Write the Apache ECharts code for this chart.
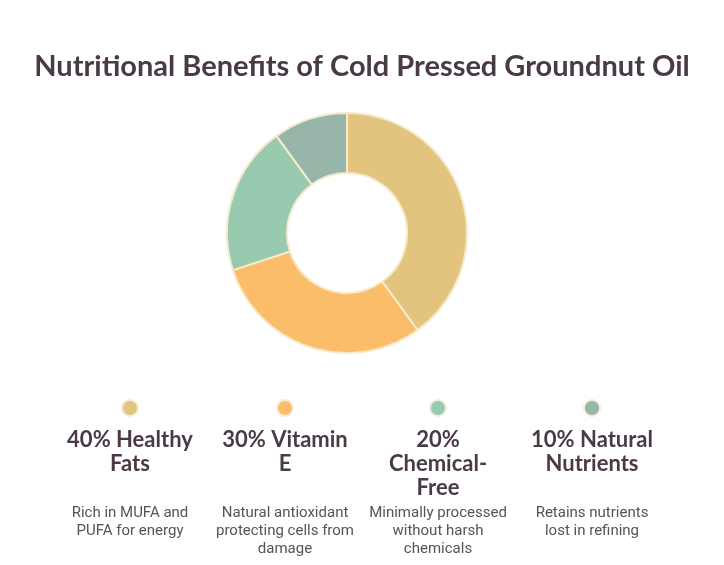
<!DOCTYPE html>
<html lang="en">
<head>
  <meta charset="UTF-8">
  <title>Cold Pressed Groundnut Oil</title>
  <style>
    html, body { margin: 0; padding: 0; background: #fff; }
    #myChart { width: 724px; height: 565px; }
  </style>
</head>
<body>
  <div id="myChart"></div>
  <script src="https://cdn.jsdelivr.net/npm/echarts@6/dist/echarts.min.js"></script>
  <script>
    const myChart = echarts.init(document.getElementById('myChart'));

    const names = ['Healthy Fats', 'Vitamin E', 'Chemical-Free', 'Natural Nutrients'];
    const values = [40, 30, 20, 10];
    const labelLines = ['40% Healthy\nFats', '30% Vitamin\nE', '20%\nChemical-\nFree', '10% Natural\nNutrients'];
    const notes = [
      'Rich in MUFA and\nPUFA for energy',
      'Natural antioxidant\nprotecting cells from\ndamage',
      'Minimally processed\nwithout harsh\nchemicals',
      'Retains nutrients\nlost in refining'
    ];
    const colors = ['#e3c47f', '#fcbd6b', '#98caaf', '#98b5aa'];

    const colX = [130, 285, 438, 592];
    const graphic = [];
    names.forEach((n, i) => {
      graphic.push({
        type: 'circle',
        shape: { cx: colX[i], cy: 408, r: 8 },
        style: { fill: colors[i], stroke: '#f3eddc', lineWidth: 2 }
      });
      graphic.push({
        type: 'text',
        x: colX[i],
        y: 428,
        style: {
          text: labelLines[i],
          fill: '#4a3a48',
          font: 'bold 22px Lato',
          lineHeight: 24,
          align: 'center',
          verticalAlign: 'top'
        }
      });
      graphic.push({
        type: 'text',
        x: colX[i],
        y: 504,
        style: {
          text: notes[i],
          fill: '#555555',
          font: '15px Roboto',
          lineHeight: 18,
          align: 'center',
          verticalAlign: 'top'
        }
      });
    });

    const option = {
      backgroundColor: '#ffffff',
      title: {
        text: 'Nutritional Benefits of Cold Pressed Groundnut Oil',
        left: 'center',
        top: 47,
        textStyle: {
          fontFamily: 'Lato',
          fontWeight: 'bold',
          fontSize: 29,
          color: '#4a3a48'
        }
      },
      color: colors,
      series: [{
        type: 'pie',
        center: [347, 233],
        radius: [60, 120],
        startAngle: 90,
        clockwise: true,
        label: { show: false },
        labelLine: { show: false },
        itemStyle: {
          borderColor: '#f5ebcb',
          borderWidth: 2
        },
        data: names.map((n, i) => ({ name: n, value: values[i] }))
      }],
      graphic: graphic
    };
    myChart.setOption(option);
  </script>
</body>
</html>
